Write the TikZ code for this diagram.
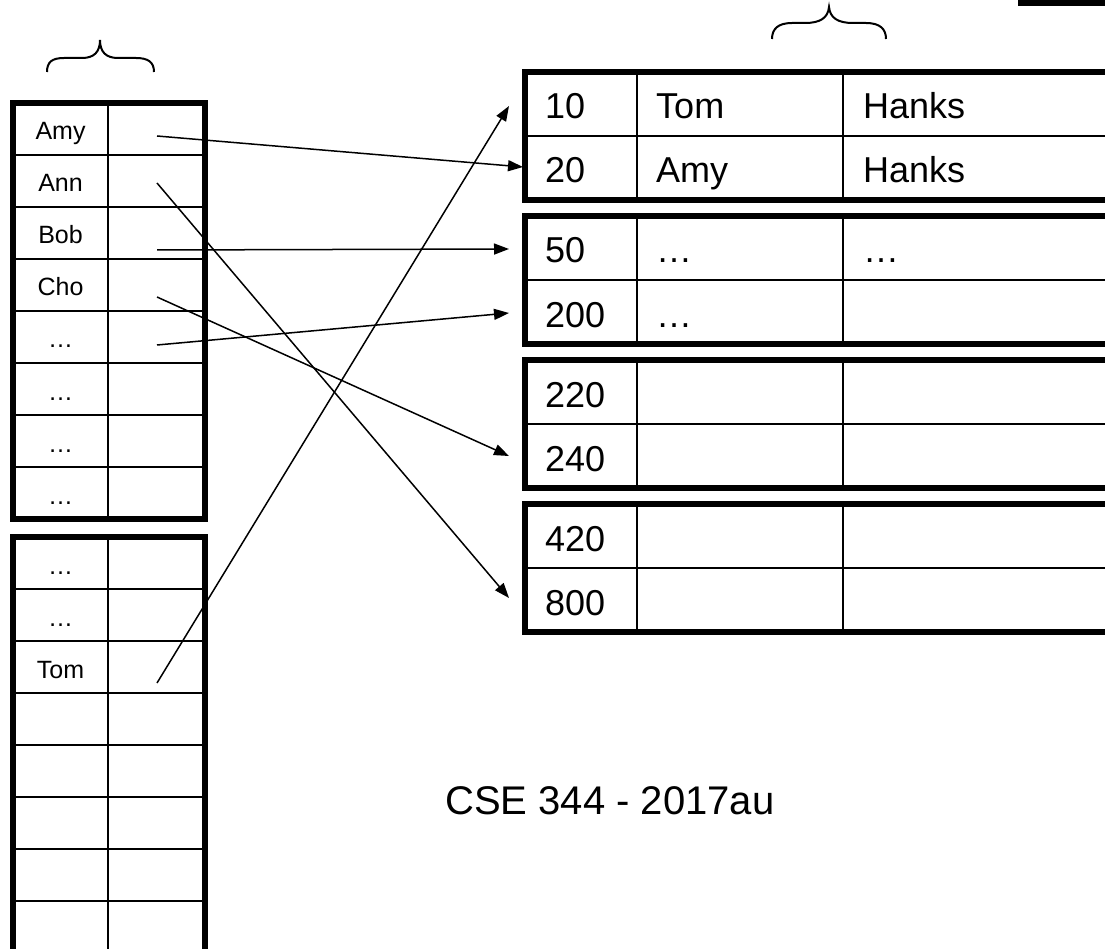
\documentclass[tikz,border=0pt]{standalone}
\usepackage{fontspec}
\setmainfont{Liberation Sans}
\usetikzlibrary{arrows.meta}
\tikzset{
  x=1pt,y=1pt,
  outer/.style={line width=6pt},
  inner/.style={line width=2.5pt},
  small/.style={font=\fontsize{25}{28}\selectfont, anchor=base, inner sep=0pt},
  big/.style={font=\fontsize{36}{40}\selectfont, anchor=base west, inner sep=0pt},
  ptr/.style={line width=1.5pt, -{Triangle[length=15pt,width=11pt]}},
  brace/.style={line width=2pt}
}
\begin{document}
\begin{tikzpicture}
\useasboundingbox (0,0) rectangle (1105,-949);
\clip (0,0) rectangle (1105,-949);
% top right bar
\fill (1018,0) rectangle (1110,-6);
% braces
\draw[brace] (47,-72) .. controls (47,-62) and (52,-58) .. (64,-58) -- (82,-58) .. controls (94,-58) and (100,-52) .. (100,-40)
  .. controls (100,-52) and (106,-58) .. (118,-58) -- (136,-58) .. controls (148,-58) and (154,-62) .. (154,-72);
\draw[brace] (772,-39) .. controls (772,-29) and (778,-23) .. (792,-23) -- (805,-23) .. controls (820,-23) and (828,-18) .. (829,-7)
  .. controls (830,-18) and (838,-23) .. (853,-23) -- (866,-23) .. controls (880,-23) and (886,-29) .. (886,-39);
% left table 1
\foreach \i in {1,...,7} \draw[inner] (13,-103-52*\i) -- (205,-103-52*\i);
\draw[inner] (108,-103) -- (108,-519);
\draw[outer] (13,-103) rectangle (205,-519);
% left table 2
\foreach \i in {1,...,7} \draw[inner] (13,-537-52*\i) -- (205,-537-52*\i);
\draw[inner] (108,-537) -- (108,-960);
\draw[outer] (13,-537) rectangle (205,-970);
% left texts
\node[small] (amy) at (60.5,-140) {Amy};
\node[small] (ann) at (60.5,-192) {Ann};
\node[small] (bob) at (60.5,-244) {Bob};
\node[small] (cho) at (60.5,-296) {Cho};
\node[small] (d1) at (60.5,-348) {…};
\node[small] (d2) at (60.5,-400) {…};
\node[small] (d3) at (60.5,-452) {…};
\node[small] (d4) at (60.5,-504) {…};
\node[small] (d5) at (60.5,-574) {…};
\node[small] (d6) at (60.5,-626) {…};
\node[small] (tom) at (60.5,-678) {Tom};
% right blocks
\foreach \t in {72,216,360,504} {
  \draw[inner] (525,-\t-64) -- (1115,-\t-64);
  \draw[inner] (637,-\t) -- (637,-\t-128);
  \draw[inner] (843,-\t) -- (843,-\t-128);
  \draw[outer] (525,-\t) rectangle (1115,-\t-128);
}
\node[big] (r10) at (545,-119) {10};
\node[big] (r20) at (545,-183) {20};
\node[big] (r50) at (545,-263) {50};
\node[big] (r200) at (545,-327) {200};
\node[big] (r220) at (545,-407) {220};
\node[big] (r240) at (545,-471) {240};
\node[big] (r420) at (545,-551) {420};
\node[big] (r800) at (545,-615) {800};
\node[big] (tomf) at (656,-119) {Tom};
\node[big] (amyf) at (656,-183) {Amy};
\node[big] (e1) at (656,-263) {…};
\node[big] (e2) at (656,-327) {…};
\node[big] (hk1) at (863,-119) {Hanks};
\node[big] (hk2) at (863,-183) {Hanks};
\node[big] (e3) at (863,-263) {…};
% caption
\node[font=\fontsize{40}{44}\selectfont, anchor=base west, inner sep=0pt] (cap) at (445,-814) {CSE 344 - 2017au};
% pointers
\coordinate (pamy) at (157,-136);
\coordinate (pann) at (157,-183);
\coordinate (pbob) at (157,-250);
\coordinate (pcho) at (157,-297);
\coordinate (pdot) at (157,-345);
\coordinate (ptom) at (157,-683);
\coordinate (t10) at (509,-106);
\coordinate (t20) at (523,-167);
\coordinate (t50) at (509,-249);
\coordinate (t200) at (509,-313);
\coordinate (t240) at (509,-456);
\coordinate (t800) at (509,-598);
\draw[ptr] (pamy) -- (t20);
\draw[ptr] (pann) -- (t800);
\draw[ptr] (pbob) -- (t50);
\draw[ptr] (pcho) -- (t240);
\draw[ptr] (pdot) -- (t200);
\draw[ptr] (ptom) -- (t10);
\end{tikzpicture}
\end{document}
